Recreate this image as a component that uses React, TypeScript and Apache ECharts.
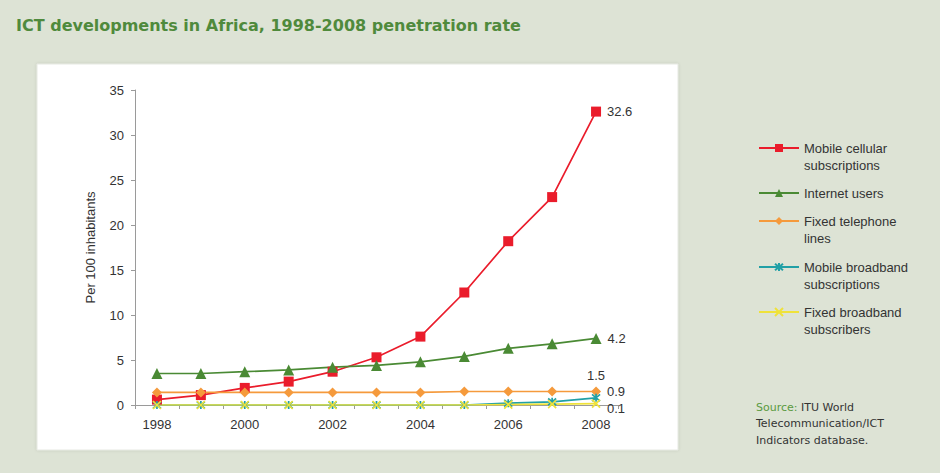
import React, { useEffect, useRef } from "react";
import * as echarts from "echarts";

const years = ["1998", "1999", "2000", "2001", "2002", "2003", "2004", "2005", "2006", "2007", "2008"];
const mobileCellular = [0.6, 1.1, 1.9, 2.6, 3.7, 5.3, 7.6, 12.5, 18.2, 23.1, 32.6];
const internetUsers = [3.5, 3.5, 3.7, 3.9, 4.2, 4.4, 4.8, 5.4, 6.3, 6.8, 7.4];
const fixedTelephone = [1.4, 1.4, 1.4, 1.4, 1.4, 1.4, 1.4, 1.5, 1.5, 1.5, 1.5];
const mobileBroadband = [0, 0, 0, 0, 0, 0, 0, 0, 0.2, 0.35, 0.8];
const fixedBroadband = [0, 0, 0, 0, 0, 0, 0, 0, 0.05, 0.1, 0.15];
const endLabels = ["32.6", "4.2", "1.5", "0.9", "0.1"];
const seriesNames = [
  "Mobile cellular\nsubscriptions",
  "Internet users",
  "Fixed telephone\nlines",
  "Mobile broadband\nsubscriptions",
  "Fixed broadband\nsubscribers",
];

const FONT = "Liberation Sans, Arial, sans-serif";
const xPath = "path://M0,0L10,10M10,0L0,10";
const starPath = "path://M0,0L10,10M10,0L0,10M5,-1L5,11";

export default function App() {
  const ref = useRef<HTMLDivElement>(null);
  useEffect(() => {
    if (!ref.current) return;
    const chart = echarts.init(ref.current, null, { renderer: "svg" });

    const lastLabel = (text: string, extra: any) => ({
      show: true,
      formatter: () => text,
      color: "#333",
      fontFamily: FONT,
      fontSize: 13,
      ...extra,
    });

    const mk = (
      name: string,
      values: number[],
      color: string,
      symbol: string,
      symbolSize: number,
      label: any,
      stroke: boolean
    ) => ({
      name,
      type: "line",
      data: values.map((v, i) =>
        i === values.length - 1 ? { value: v, label } : v
      ),
      color,
      symbol,
      symbolSize,
      showSymbol: true,
      lineStyle: { color, width: 1.7 },
      itemStyle: stroke
        ? { color, borderColor: color, borderWidth: 1.7 }
        : { color, borderWidth: 0 },
      label: { show: false },
      emphasis: { disabled: true },
    });

    const LH = 17.5;
    const iconCenters = [148, 193, 221, 267, 312];
    const legends = seriesNames.map((n, i) => {
      const two = n.includes("\n");
      const boxH = two ? LH * 3 : LH;
      return {
        data: [n],
        orient: "vertical",
        left: 758,
        top: iconCenters[i] - boxH / 2,
        padding: 0,
        itemWidth: 40,
        itemHeight: 10,
        itemGap: 0,
        formatter: (name: string) => (name.includes("\n") ? " \n" + name : name),
        textStyle: {
          fontFamily: FONT,
          fontSize: 13,
          color: "#333",
          lineHeight: LH,
        },
        selectedMode: false,
      };
    });

    chart.setOption({
      animation: false,
      backgroundColor: "#dde3d5",
      title: {
        text: "ICT developments in Africa, 1998-2008 penetration rate",
        left: 11,
        top: 12,
        textStyle: {
          fontFamily: "DejaVu Sans, Verdana, sans-serif",
          fontWeight: "bold",
          fontSize: 16,
          color: "#4f8a3c",
        },
      },
      graphic: [
        {
          type: "rect",
          z: -10,
          shape: { x: 37, y: 64, width: 641, height: 386 },
          style: {
            fill: "#ffffff",
            stroke: "#e6e9e2",
            lineWidth: 1,
            shadowBlur: 3,
            shadowColor: "rgba(0,0,0,0.12)",
          },
          silent: true,
        },
        {
          type: "text",
          left: 756,
          top: 399,
          style: {
            text: "{g|Source:} ITU World\nTelecommunication/ICT\nIndicators database.",
            fontFamily: "DejaVu Sans, Verdana, sans-serif",
            fontSize: 11,
            lineHeight: 16.5,
            fill: "#333",
            rich: {
              g: {
                fill: "#5a9a40",
                fontFamily: "DejaVu Sans, Verdana, sans-serif",
                fontSize: 11,
                lineHeight: 16.5,
              },
            },
          },
        },
      ],
      legend: legends,
      grid: { left: 135, right: 322, top: 90, bottom: 68, containLabel: false },
      xAxis: {
        type: "category",
        data: years,
        boundaryGap: true,
        axisLine: { lineStyle: { color: "#9a9a9a", width: 1 } },
        axisTick: { show: true, interval: 0, length: 4, lineStyle: { color: "#9a9a9a" } },
        axisLabel: {
          interval: 1,
          color: "#333",
          fontFamily: FONT,
          fontSize: 13,
          margin: 13,
        },
        splitLine: { show: false },
      },
      yAxis: {
        type: "value",
        min: 0,
        max: 35,
        interval: 5,
        name: "Per 100 inhabitants",
        nameLocation: "middle",
        nameGap: 38,
        nameRotate: 90,
        nameTextStyle: { fontFamily: FONT, fontSize: 13, color: "#333" },
        axisLine: { show: true, lineStyle: { color: "#9a9a9a", width: 1 } },
        axisTick: { show: true, length: 4, lineStyle: { color: "#9a9a9a" } },
        axisLabel: { color: "#333", fontFamily: FONT, fontSize: 13, margin: 11 },
        splitLine: { show: false },
      },
      series: [
        mk(seriesNames[0], mobileCellular, "#ea1c2b", "rect", 10,
          lastLabel(endLabels[0], { position: "right", distance: 6 }), false),
        mk(seriesNames[1], internetUsers, "#4a8a34", "triangle", 11,
          lastLabel(endLabels[1], { position: "right", distance: 6 }), false),
        mk(seriesNames[2], fixedTelephone, "#f59a3c", "diamond", 10,
          lastLabel(endLabels[2], { position: "top", distance: 5 }), false),
        mk(seriesNames[3], mobileBroadband, "#21a0a6", starPath, 8,
          lastLabel(endLabels[3], { position: "right", distance: 6, offset: [0, -6] }), true),
        mk(seriesNames[4], fixedBroadband, "#efe23a", xPath, 8,
          lastLabel(endLabels[4], { position: "right", distance: 6, offset: [0, 5] }), true),
      ],
    });
    return () => chart.dispose();
  }, []);
  return (
    <div
      ref={ref}
      style={{ position: "fixed", left: 0, top: 0, width: 940, height: 473 }}
    />
  );
}
